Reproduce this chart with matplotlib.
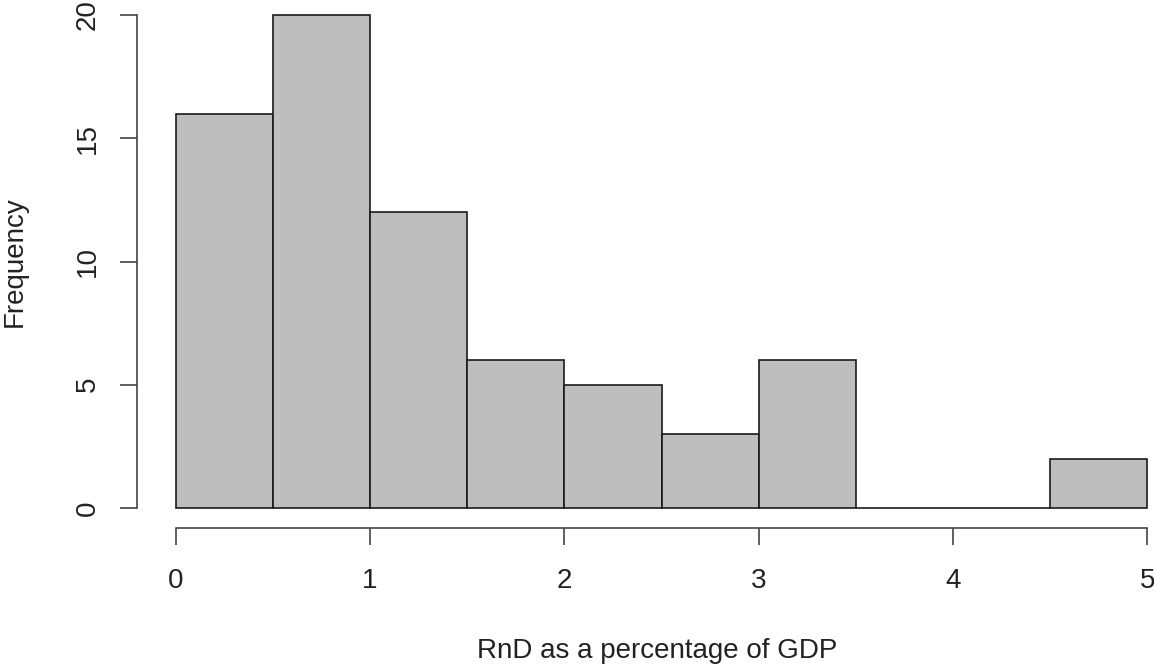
import matplotlib
matplotlib.use("Agg")
import matplotlib.pyplot as plt
import numpy as np

bin_edges = [0, 0.5, 1, 1.5, 2, 2.5, 3, 3.5, 4, 4.5, 5]
counts = [16, 20, 12, 6, 5, 3, 6, 0, 0, 2]
x_ticks = [0, 1, 2, 3, 4, 5]
y_ticks = [0, 5, 10, 15, 20]
x_label = "RnD as a percentage of GDP"
y_label = "Frequency"

plt.rcParams['font.family'] = ['Liberation Sans', 'DejaVu Sans']

W, H = 1154, 669
fig = plt.figure(figsize=(W / 100, H / 100), dpi=100)

# plot region in pixels (R-style 4% padding)
left_px, right_px = 137, 1186
bottom_px, top_px = 527.7, -4.7
ax = fig.add_axes([left_px / W, (H - bottom_px) / H,
                   (right_px - left_px) / W, (bottom_px - top_px) / H])

edges = np.array(bin_edges)
widths = np.diff(edges)
ax.bar(edges[:-1], counts, width=widths, align='edge',
       color='#bebebe', edgecolor='#1a1a1a', linewidth=1.2)

ax.set_xlim(-0.2, 5.2)
ax.set_ylim(-0.8, 20.8)

for s in ['top', 'right']:
    ax.spines[s].set_visible(False)
ax.spines['left'].set_bounds(0, 20)
ax.spines['bottom'].set_bounds(0, 5)
for s in ['left', 'bottom']:
    ax.spines[s].set_color('#444444')
    ax.spines[s].set_linewidth(1.2)

ax.set_xticks(x_ticks)
ax.set_xticklabels([str(t) for t in x_ticks])
ax.set_yticks(y_ticks)
ax.set_yticklabels([str(t) for t in y_ticks], rotation=90, va='center')
ax.tick_params(axis='both', length=12, width=1.2, color='#444444',
               labelsize=20, labelcolor='#222222')
ax.tick_params(axis='x', pad=17)
ax.tick_params(axis='y', pad=14)

fig.text(657 / W, 1 - 651 / H, x_label, ha='center', va='center',
         fontsize=20, color='#222222')
fig.text(15 / W, 1 - 262 / H, y_label, ha='center', va='center',
         rotation=90, fontsize=20, color='#222222')

fig.savefig("out.png", dpi=100)
